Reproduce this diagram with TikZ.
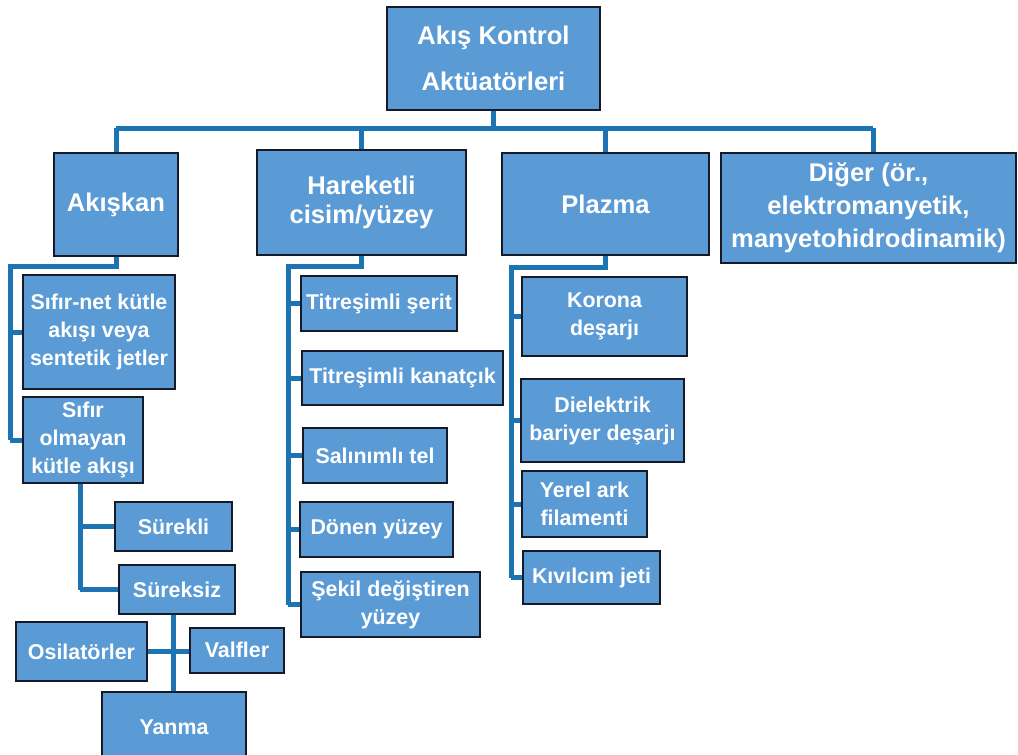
\documentclass[tikz,border=0pt]{standalone}
\usepackage{fontspec}
\setmainfont{Liberation Sans}
\usetikzlibrary{positioning,backgrounds}
\begin{document}
\begin{tikzpicture}[x=1pt,y=-1pt]
      % Color definitions
      \definecolor{boxfill}{RGB}{91, 155, 213}
      \definecolor{boxline}{RGB}{22, 26, 40}
      \definecolor{linkcolor}{RGB}{28, 117, 178}

      % Styles
      \tikzset{
          box/.style={
              draw=boxline, line width=2pt, fill=boxfill, text=white,
              inner sep=0pt, align=center,
              font=\bfseries\fontsize{21.4}{28}\selectfont
          },
          bigbox/.style={box, font=\bfseries\fontsize{25.6}{29}\selectfont},
          link/.style={draw=linkcolor, line width=5pt}
      }

      % Canvas
      \useasboundingbox (0,0) rectangle (1018,755);
      \clip (0,0) rectangle (1018,755);

      % Trunk positions
      \def\barY{128}
      \def\fluidX{10}
      \def\bodyX{288}
      \def\plasmaX{511}

      % Root
      \node[bigbox, minimum width=213pt, minimum height=103pt,
            font=\bfseries\fontsize{25.6}{46}\selectfont] (root) at (493.5,58.5) {Akış Kontrol\\Aktüatörleri};

      % Main groups
      \node[bigbox, minimum width=124pt, minimum height=103pt] (akiskan) at (116,204.5) {Akışkan};
      \node[bigbox, minimum width=209pt, minimum height=105pt] (hareket) at (361.5,202.5) {Hareketli\\cisim/yüzey};
      \node[bigbox, minimum width=207pt, minimum height=102pt] (plazma) at (605.5,204) {Plazma};
      \node[bigbox, minimum width=295pt, minimum height=110pt,
            font=\bfseries\fontsize{25.6}{33}\selectfont] (diger) at (868.5,208) {Diğer (ör.,\\elektromanyetik,\\manyetohidrodinamik)};

      % Fluid actuators
      \node[box, minimum width=152pt, minimum height=114pt] (sifirnet) at (99,332) {Sıfır-net kütle\\akışı veya\\sentetik jetler};
      \node[box, minimum width=120pt, minimum height=86pt] (sifirolmayan) at (83,440) {Sıfır\\olmayan\\kütle akışı};
      \node[box, minimum width=117pt, minimum height=49pt] (surekli) at (173.5,526.5) {Sürekli};
      \node[box, minimum width=116pt, minimum height=49pt] (sureksiz) at (177,589.5) {Süreksiz};
      \node[box, minimum width=131pt, minimum height=59pt] (osilator) at (81.5,651.5) {Osilatörler};
      \node[box, minimum width=94pt, minimum height=45pt] (valf) at (237,650) {Valfler};
      \node[box, minimum width=144pt, minimum height=70pt] (yanma) at (174,727) {Yanma};

      % Moving body / surface
      \node[box, minimum width=156pt, minimum height=55pt] (titserit) at (379,303.5) {Titreşimli şerit};
      \node[box, minimum width=201pt, minimum height=54pt] (titkanat) at (402.5,378) {Titreşimli kanatçık};
      \node[box, minimum width=144pt, minimum height=55pt] (salinim) at (375,455.5) {Salınımlı tel};
      \node[box, minimum width=153pt, minimum height=55pt] (donen) at (376.5,529.5) {Dönen yüzey};
      \node[box, minimum width=179pt, minimum height=65pt] (sekil) at (390.5,604.5) {Şekil değiştiren\\yüzey};

      % Plasma
      \node[box, minimum width=165pt, minimum height=79pt] (korona) at (604.5,316.5) {Korona\\deşarjı};
      \node[box, minimum width=163pt, minimum height=83pt] (dielektrik) at (602.5,420.5) {Dielektrik\\bariyer deşarjı};
      \node[box, minimum width=125pt, minimum height=66pt] (yerel) at (584.5,504) {Yerel ark\\filamenti};
      \node[box, minimum width=137pt, minimum height=53pt] (kivilcim) at (591.5,577.5) {Kıvılcım jeti};

      % Connectors (behind the boxes)
      \begin{pgfonlayer}{background}
          % Root to main groups
          \coordinate (barL) at (116,\barY);
          \coordinate (barR) at (873,\barY);
          \draw[link] (root.south) -- (root.south |- barL);
          \draw[link] (barL) -- (barR);
          \foreach \n in {akiskan, hareket, plazma} {
              \draw[link] (\n.north |- barL) -- (\n.north);
          }
          \draw[link] (barR) -- (barR |- diger.north);

          % Fluid trunk
          \coordinate (fluidTop) at (\fluidX,266);
          \draw[link] (akiskan.south) |- (fluidTop) -- (fluidTop |- sifirolmayan.west);
          \foreach \n in {sifirnet, sifirolmayan} {
              \draw[link] (fluidTop |- \n.west) -- (\n.west);
          }

          % Non-zero mass flux
          \coordinate (fluxTop) at (80,483);
          \draw[link] (fluxTop) -- (fluxTop |- sureksiz.west);
          \foreach \n in {surekli, sureksiz} {
              \draw[link] (fluxTop |- \n.west) -- (\n.west);
          }

          % Unsteady
          \coordinate (unsteady) at (173,614);
          \draw[link] (unsteady) -- (unsteady |- yanma.north);
          \draw[link] (osilator.east) -- (osilator.east -| valf.west);

          % Moving body trunk
          \coordinate (bodyTop) at (\bodyX,266);
          \draw[link] (hareket.south) |- (bodyTop) -- (bodyTop |- sekil.west);
          \foreach \n in {titserit, titkanat, salinim, donen, sekil} {
              \draw[link] (bodyTop |- \n.west) -- (\n.west);
          }

          % Plasma trunk
          \coordinate (plasmaTop) at (\plasmaX,267);
          \draw[link] (plazma.south) |- (plasmaTop) -- (plasmaTop |- kivilcim.west);
          \foreach \n in {korona, dielektrik, yerel, kivilcim} {
              \draw[link] (plasmaTop |- \n.west) -- (\n.west);
          }
      \end{pgfonlayer}

\end{tikzpicture}
\end{document}
